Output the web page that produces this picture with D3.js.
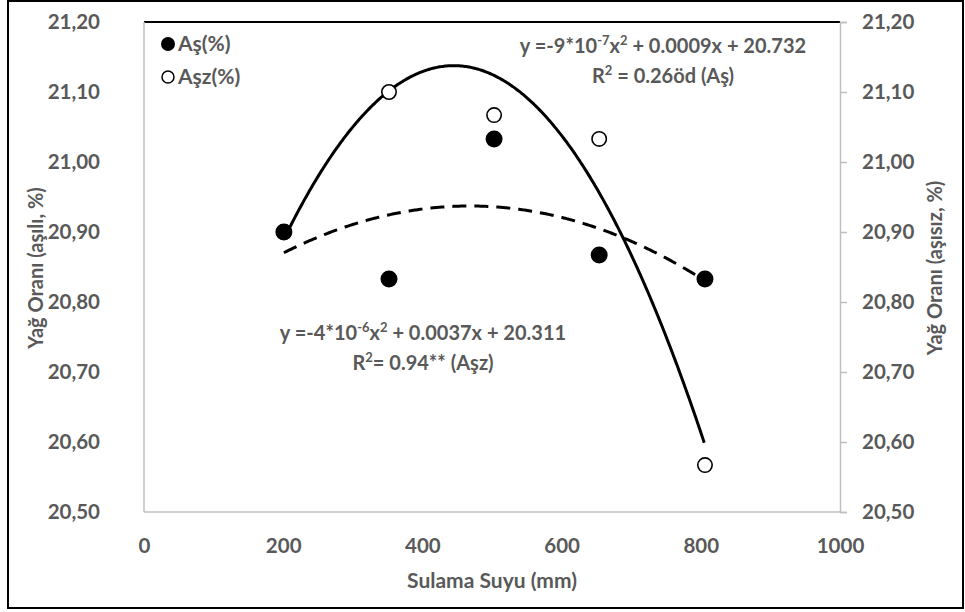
<!DOCTYPE html>
<html><head><meta charset="utf-8">
<script src="https://cdn.jsdelivr.net/npm/d3@7"></script>
<style>body{margin:0;background:#fff}svg text{font-family:Lato,"Open Sans",sans-serif;font-weight:bold;fill:#595959}</style>
</head><body><svg id="c" width="965" height="612"></svg>
<script>
// data
const xValues = [201, 352, 503, 654, 806];
const asValues = [20.900, 20.833, 21.033, 20.867, 20.833];      // Aş(%) filled
const aszValues = [20.900, 21.100, 21.067, 21.033, 20.567];     // Aşz(%) hollow
const xTicks = [0, 200, 400, 600, 800, 1000];
const yTicks = [20.5, 20.6, 20.7, 20.8, 20.9, 21.0, 21.1, 21.2];

const svg = d3.select("#c");
const L = 144, R = 840, T = 22, B = 512;
const x = d3.scaleLinear().domain([0, 1000]).range([L, R]);
const y = d3.scaleLinear().domain([20.5, 21.2]).range([B, T]);
const fmt = d => d3.format(".2f")(d).replace(".", ",");
const TF = 20.5;

// outer border
svg.append("rect").attr("x", 8).attr("y", 1).attr("width", 955).attr("height", 607)
  .attr("fill", "none").attr("stroke", "#000").attr("stroke-width", 2);

// plot frame
svg.append("line").attr("x1", L).attr("x2", R).attr("y1", T).attr("y2", T).attr("stroke", "#000").attr("stroke-width", 2);
svg.append("line").attr("x1", L).attr("x2", L).attr("y1", T).attr("y2", B).attr("stroke", "#bfbfbf").attr("stroke-width", 1.5);
svg.append("line").attr("x1", L).attr("x2", R).attr("y1", B).attr("y2", B).attr("stroke", "#bfbfbf").attr("stroke-width", 1.5);

// right axis with outward ticks
const ra = svg.append("g").attr("transform", `translate(${R},0)`)
  .call(d3.axisRight(y).tickValues(yTicks).tickSize(7).tickPadding(15).tickFormat(fmt));
ra.select(".domain").attr("stroke", "#bfbfbf").attr("stroke-width", 1.5);
ra.selectAll(".tick line").attr("stroke", "#bfbfbf").attr("stroke-width", 1.5);
ra.selectAll("text").attr("font-size", TF).style("fill", "#595959");

// left axis labels
const la = svg.append("g").attr("transform", `translate(${L},0)`)
  .call(d3.axisLeft(y).tickValues(yTicks).tickSize(0).tickPadding(44).tickFormat(fmt));
la.select(".domain").remove();
la.selectAll("text").attr("font-size", TF).style("fill", "#595959");

// bottom axis labels
const ba = svg.append("g").attr("transform", `translate(0,${B})`)
  .call(d3.axisBottom(x).tickValues(xTicks).tickSize(0).tickPadding(26).tickFormat(d3.format("d")));
ba.select(".domain").remove();
ba.selectAll("text").attr("font-size", TF).style("fill", "#595959");

// axis titles
svg.append("text").attr("x", 492).attr("y", 588).attr("text-anchor", "middle").attr("font-size", 21).text("Sulama Suyu (mm)");
svg.append("text").attr("transform", "translate(43,268) rotate(-90)").attr("text-anchor", "middle").attr("font-size", 20).text("Yağ Oranı (aşılı, %)");
svg.append("text").attr("transform", "translate(942,268) rotate(-90)").attr("text-anchor", "middle").attr("font-size", 20).text("Yağ Oranı (aşısız, %)");

// quadratic least squares fit (trendlines)
function quadFit(xs, ys) {
  let S = Array(5).fill(0), Ty = [0, 0, 0];
  xs.forEach((xv, i) => { for (let k = 0; k < 5; k++) S[k] += Math.pow(xv, k); for (let k = 0; k < 3; k++) Ty[k] += ys[i] * Math.pow(xv, k); });
  const M = [[S[0], S[1], S[2], Ty[0]], [S[1], S[2], S[3], Ty[1]], [S[2], S[3], S[4], Ty[2]]];
  for (let i = 0; i < 3; i++) { for (let j = i + 1; j < 3; j++) { const f = M[j][i] / M[i][i]; for (let k = i; k < 4; k++) M[j][k] -= f * M[i][k]; } }
  const c = [0, 0, 0];
  for (let i = 2; i >= 0; i--) { let s = M[i][3]; for (let k = i + 1; k < 3; k++) s -= M[i][k] * c[k]; c[i] = s / M[i][i]; }
  return xv => c[0] + c[1] * xv + c[2] * xv * xv;
}
const fAs = quadFit(xValues, asValues), fAsz = quadFit(xValues, aszValues);
const xs = d3.range(xValues[0], xValues[xValues.length - 1] + 0.5, 2);
const line = f => d3.line().x(d => x(d)).y(d => y(f(d)))(xs);
svg.append("path").attr("d", line(fAsz)).attr("fill", "none").attr("stroke", "#000").attr("stroke-width", 3);
svg.append("path").attr("d", line(fAs)).attr("fill", "none").attr("stroke", "#000").attr("stroke-width", 3).attr("stroke-dasharray", "14,8");

// points
svg.selectAll(".h").data(xValues).join("circle").attr("cx", d => x(d)).attr("cy", (d, i) => y(aszValues[i]))
  .attr("r", 7.2).attr("fill", "#fff").attr("stroke", "#000").attr("stroke-width", 1.6);
svg.selectAll(".f").data(xValues).join("circle").attr("cx", d => x(d)).attr("cy", (d, i) => y(asValues[i]))
  .attr("r", 8.5).attr("fill", "#000");

// legend
svg.append("circle").attr("cx", 168).attr("cy", 44).attr("r", 7).attr("fill", "#000");
svg.append("text").attr("x", 178).attr("y", 51).attr("font-size", 21).text("Aş(%)");
svg.append("circle").attr("cx", 168).attr("cy", 77).attr("r", 6).attr("fill", "#fff").attr("stroke", "#000").attr("stroke-width", 1.5);
svg.append("text").attr("x", 178).attr("y", 84).attr("font-size", 21).text("Aşz(%)");

// equations
function eq(cx, cy, parts) {
  const t = svg.append("text").attr("x", cx).attr("y", cy).attr("text-anchor", "middle").attr("font-size", 20);
  parts.forEach(p => {
    if (p.sup) t.append("tspan").attr("dy", -8).attr("font-size", 13).text(p.t);
    else t.append("tspan").attr("dy", p.after ? 8 : 0).text(p.t);
  });
}
eq(663, 53, [{t: "y =-9*10"}, {t: "-7", sup: 1}, {t: "x", after: 1}, {t: "2", sup: 1}, {t: " + 0.0009x + 20.732", after: 1}]);
eq(663, 83, [{t: "R"}, {t: "2", sup: 1}, {t: " = 0.26öd (Aş)", after: 1}]);
eq(423, 340, [{t: "y =-4*10"}, {t: "-6", sup: 1}, {t: "x", after: 1}, {t: "2", sup: 1}, {t: " + 0.0037x + 20.311", after: 1}]);
eq(423, 370, [{t: "R"}, {t: "2", sup: 1}, {t: "= 0.94** (Aşz)", after: 1}]);
</script></body></html>
